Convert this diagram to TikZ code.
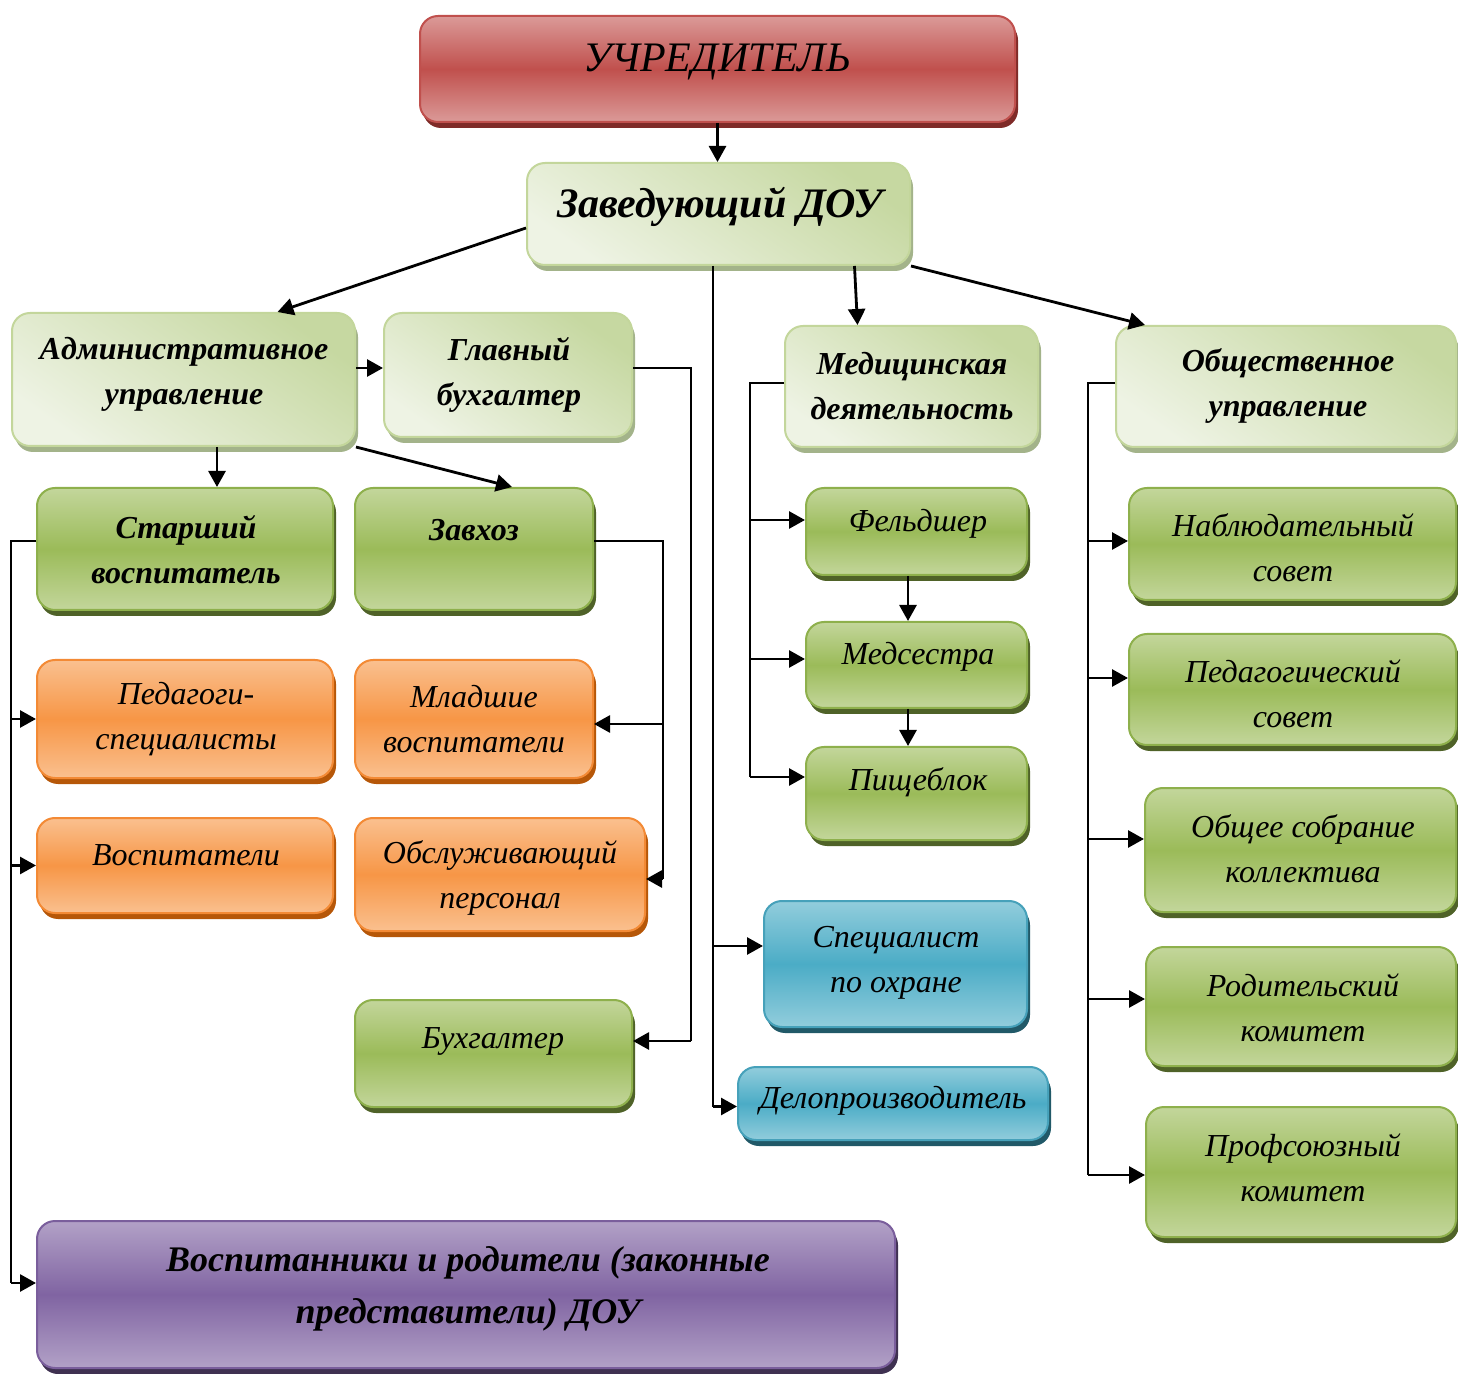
\documentclass[tikz,border=0pt]{standalone}
\usepackage{fontspec}
\setmainfont{Liberation Serif}
\usetikzlibrary{arrows.meta,shadows,calc}
\definecolor{rLt}{HTML}{DB9A98}
\definecolor{rMd}{HTML}{C0504D}
\definecolor{rBd}{HTML}{C0504D}
\definecolor{rSh}{HTML}{7F2B28}
\definecolor{lgA}{HTML}{C6D8A1}
\definecolor{lgB}{HTML}{EEF3E4}
\definecolor{lgBd}{HTML}{C3D69B}
\definecolor{lgSh}{HTML}{A3B38A}
\definecolor{gLt}{HTML}{C3D69B}
\definecolor{gMd}{HTML}{9BBB59}
\definecolor{gBd}{HTML}{8EB04C}
\definecolor{gSh}{HTML}{4F6228}
\definecolor{oLt}{HTML}{FAC08F}
\definecolor{oMd}{HTML}{F79646}
\definecolor{oBd}{HTML}{F38A35}
\definecolor{oSh}{HTML}{B65708}
\definecolor{bLt}{HTML}{92CDDC}
\definecolor{bMd}{HTML}{4BACC6}
\definecolor{bBd}{HTML}{46A1BA}
\definecolor{bSh}{HTML}{215968}
\definecolor{pLt}{HTML}{B2A1C7}
\definecolor{pMd}{HTML}{8064A2}
\definecolor{pBd}{HTML}{7A5E9C}
\definecolor{pSh}{HTML}{3F3151}
\begin{document}
\begin{tikzpicture}[x=0.5pt,y=-0.5pt,
  box/.style={rounded corners=9pt, line width=1pt, inner sep=0pt},
  vshade/.style n args={4}{box, draw=#3, top color=#1, bottom color=#1, middle color=#2,
     general shadow={fill=#4, shadow xshift=1.5pt, shadow yshift=-3pt}},
  redbox/.style={vshade={rLt}{rMd}{rBd}{rSh}},
  grnbox/.style={vshade={gLt}{gMd}{gBd}{gSh}},
  orgbox/.style={vshade={oLt}{oMd}{oBd}{oSh}},
  blubox/.style={vshade={bLt}{bMd}{bBd}{bSh}},
  purbox/.style={vshade={pLt}{pMd}{pBd}{pSh}},
  lgbox/.style={box, draw=lgBd, top color=lgA, bottom color=lgB, shading angle=-35,
     general shadow={fill=lgSh, shadow xshift=1.5pt, shadow yshift=-3pt}},
  txt/.style={inner sep=0pt, align=center, font=\fontsize{16}{22.5}\selectfont\itshape},
  txtb/.style={txt, font=\fontsize{16}{22.5}\selectfont\itshape\bfseries},
  arr/.style={line width=1.4pt, -{Triangle[length=8pt,width=8.5pt]}},
  trunk/.style={line width=1pt}
]
\useasboundingbox (0,0) rectangle (1458,1374);

% ---- boxes ----
\node[redbox, minimum width=297.5pt, minimum height=53pt] (uch) at (717.5,69) {};
\node[lgbox, minimum width=191.5pt, minimum height=51pt] (zav) at (718.5,214) {};
\node[lgbox, minimum width=171.5pt, minimum height=66.5pt] (adm) at (183.5,379.5) {};
\node[lgbox, minimum width=124pt, minimum height=62pt] (gb) at (508,375) {};
\node[lgbox, minimum width=126.5pt, minimum height=60.5pt] (med) at (911.5,386.5) {};
\node[lgbox, minimum width=170pt, minimum height=60.5pt] (obs) at (1286,386.5) {};

\node[grnbox, minimum width=148pt, minimum height=61pt] (st) at (185,549) {};
\node[grnbox, minimum width=119pt, minimum height=61pt] (zx) at (474,549) {};
\node[orgbox, minimum width=148pt, minimum height=59pt] (ped) at (185,719) {};
\node[orgbox, minimum width=119pt, minimum height=59pt] (ml) at (474,719) {};
\node[orgbox, minimum width=148pt, minimum height=47.5pt] (vos) at (185,865.5) {};
\node[orgbox, minimum width=145pt, minimum height=56.5pt] (obsl) at (500,874.5) {};
\node[grnbox, minimum width=138.5pt, minimum height=53.5pt] (bu) at (493.5,1053.5) {};

\node[grnbox, minimum width=110.5pt, minimum height=43.5pt] (fel) at (916.5,531.5) {};
\node[grnbox, minimum width=110.5pt, minimum height=43pt] (ms) at (916.5,665) {};
\node[grnbox, minimum width=110.5pt, minimum height=46.5pt] (pb) at (916.5,793.5) {};
\node[blubox, minimum width=131.5pt, minimum height=63pt] (spec) at (895.5,964) {};
\node[blubox, minimum width=155pt, minimum height=36.5pt] (del) at (893,1103.5) {};

\node[grnbox, minimum width=163.5pt, minimum height=56pt] (nab) at (1292.5,544) {};
\node[grnbox, minimum width=163.5pt, minimum height=55.5pt] (pedc) at (1292.5,689.5) {};
\node[grnbox, minimum width=155.5pt, minimum height=62pt] (ob) at (1300.5,850) {};
\node[grnbox, minimum width=155pt, minimum height=59.5pt] (rod) at (1301,1006.5) {};
\node[grnbox, minimum width=155pt, minimum height=65pt] (prof) at (1301,1172) {};

\node[purbox, minimum width=429pt, minimum height=73.5pt] (pur) at (466,1294.5) {};

% ---- texts ----
\node[txt, font=\fontsize{21}{25}\selectfont\itshape] (uch-t) at (717,62) {УЧРЕДИТЕЛЬ};
\node[txtb, font=\fontsize{21}{25}\selectfont\itshape\bfseries] (zav-t) at (720,207) {Заведующий ДОУ};
\node[txtb] (adm-t) at (184,374.5) {Административное\\управление};
\node[txtb] (gb-t) at (509,374.5) {Главный\\бухгалтер};
\node[txtb] (med-t) at (912,386) {Медицинская\\деятельность};
\node[txtb] (obs-t) at (1288,386) {Общественное\\управление};
\node[txtb] (st-t) at (186,549.5) {Старший\\воспитатель};
\node[txtb] (zx-t) at (474,530) {Завхоз};
\node[txt] (ped-t) at (186,719) {Педагоги-\\специалисты};
\node[txt] (ml-t) at (474,719) {Младшие\\воспитатели};
\node[txt] (vos-t) at (186,855) {Воспитатели};
\node[txt] (obsl-t) at (500,877.5) {Обслуживающий\\персонал};
\node[txt] (bu-t) at (493,1041) {Бухгалтер};
\node[txt] (fel-t) at (918,524) {Фельдшер};
\node[txt] (ms-t) at (918,657) {Медсестра};
\node[txt] (pb-t) at (918,782) {Пищеблок};
\node[txt] (spec-t) at (896,962.5) {Специалист\\по охране};
\node[txt] (del-t) at (893,1101) {Делопроизводитель};
\node[txt] (nab-t) at (1293,548) {Наблюдательный\\совет};
\node[txt] (pedc-t) at (1293,693.5) {Педагогический\\совет};
\node[txt] (ob-t) at (1303,849) {Общее собрание\\коллектива};
\node[txt] (rod-t) at (1303,1007.5) {Родительский\\комитет};
\node[txt] (prof-t) at (1303,1168) {Профсоюзный\\комитет};
\node[txtb, font=\fontsize{18}{26}\selectfont\itshape\bfseries] (pur-t) at (468,1289) {Воспитанники и родители (законные\\представители) ДОУ};

% ---- anchor points ----
\coordinate (specW) at ([yshift=9pt]spec.west);
\coordinate (delW) at ([yshift=-1.5pt]del.west);
\coordinate (buE) at ([yshift=6.25pt]bu.east);
\coordinate (purW) at ([yshift=5.75pt]pur.west);
\coordinate (mlE) at ([yshift=-2.5pt]ml.east);
\coordinate (obslE) at ([yshift=-2.25pt]obsl.east);
\coordinate (felW) at ([yshift=5.75pt]fel.west);
\coordinate (msW) at ([yshift=3pt]ms.west);
\coordinate (pbW) at ([yshift=8.25pt]pb.west);
\coordinate (nabW) at ([yshift=1.5pt]nab.west);
\coordinate (pedcW) at ([yshift=5.75pt]pedc.west);
\coordinate (obW) at ([yshift=5.5pt]ob.west);
\coordinate (rodW) at ([yshift=3.75pt]rod.west);
\coordinate (profW) at ([yshift=-1.5pt]prof.west);

% ---- connectors ----
\draw[arr] (uch.south) -- (uch.south |- zav.north);
\draw[arr] ([yshift=-7pt]zav.west) -- ([xshift=47pt]adm.north);
\draw[arr] ([xshift=68pt]zav.south) -- ([xshift=-27pt]med.north);
\draw[arr] (zav.south east) -- ([xshift=-70.5pt]obs.north);

% trunk from Заведующий
\coordinate (tz) at ([xshift=-3pt]zav.south);
\draw[trunk] (tz) -- (tz |- delW);
\draw[arr] (tz |- delW) -- (delW);
\draw[arr] (tz |- specW) -- (specW);

% Административное
\coordinate (a1) at ([yshift=5.75pt]adm.east);
\draw[arr] (a1) -- (a1 -| gb.west);
\coordinate (a2) at ([xshift=16.75pt]adm.south);
\draw[arr] (a2) -- (a2 |- st.north);
\draw[arr] (adm.south east) -- ([xshift=19pt]zx.north);

% Главный бухгалтер -> Бухгалтер
\draw[trunk] ([yshift=3.5pt]gb.east) -- ++(29pt,0pt) coordinate (g1) -- (g1 |- buE);
\draw[arr] (g1 |- buE) -- (buE);

% Старший воспитатель
\draw[trunk] ([yshift=4pt]st.west) -- ++(-12.5pt,0pt) coordinate (l1) -- (l1 |- purW);
\draw[arr] (l1 |- ped.west) -- (ped.west);
\draw[arr] (l1 |- vos.west) -- (vos.west);
\draw[arr] (l1 |- purW) -- (purW);

% Завхоз
\draw[trunk] ([yshift=4pt]zx.east) -- ++(34.5pt,0pt) coordinate (z1) -- (z1 |- obslE);
\draw[arr] (z1 |- mlE) -- (mlE);
\draw[arr] (z1 |- obslE) -- (obslE);

% Медицинская
\draw[line width=1.3pt] ([yshift=1.75pt]med.west) -- ++(-17pt,0pt) coordinate (m1) -- (m1 |- pbW);
\draw[arr] (m1 |- felW) -- (felW);
\draw[arr] (m1 |- msW) -- (msW);
\draw[arr] (m1 |- pbW) -- (pbW);
\draw[arr] ([xshift=-4.25pt]fel.south) -- ([xshift=-4.25pt]ms.north);
\draw[arr] ([xshift=-4.25pt]ms.south) -- ([xshift=-4.25pt]pb.north);

% Общественное
\draw[trunk] ([yshift=1.75pt]obs.west) -- ++(-13.5pt,0pt) coordinate (o1) -- (o1 |- profW);
\draw[arr] (o1 |- nabW) -- (nabW);
\draw[arr] (o1 |- pedcW) -- (pedcW);
\draw[arr] (o1 |- obW) -- (obW);
\draw[arr] (o1 |- rodW) -- (rodW);
\draw[arr] (o1 |- profW) -- (profW);
\end{tikzpicture}
\end{document}
